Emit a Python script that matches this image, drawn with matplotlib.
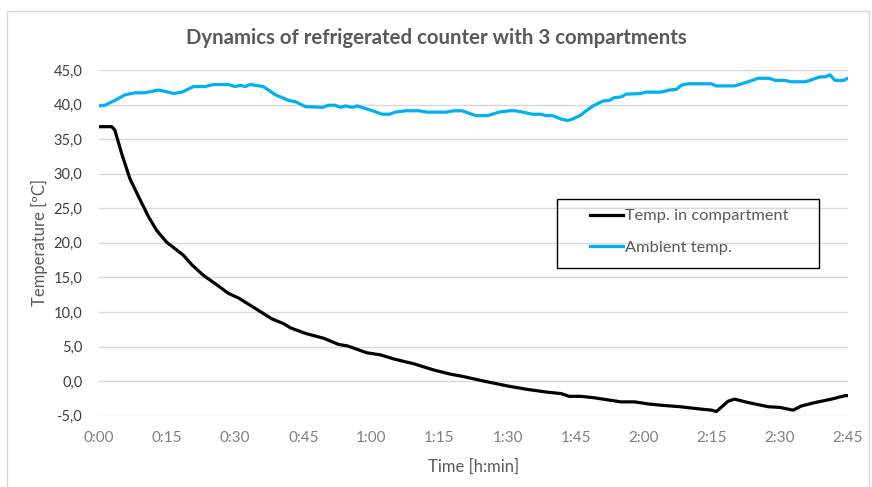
import matplotlib.pyplot as plt
from matplotlib.patches import Rectangle
from matplotlib.ticker import FuncFormatter, MultipleLocator

plt.rcParams['font.family'] = ['Lato', 'DejaVu Sans']

# time in minutes, temperatures in degC
t_comp = [0, 2.8, 3.5, 5, 6.8, 8.7, 10.9, 12.7, 14.9, 18.6, 20.5, 23, 25.6, 28.5,
          30.8, 35.2, 38.1, 40.7, 42.2, 45.5, 49.5, 52.8, 54.7, 59, 62, 65, 69.4,
          73.8, 77.5, 80, 84.8, 90, 94.4, 98.8, 101.8, 103.6, 106.2, 109, 115, 118,
          121, 124, 128, 132, 135, 136, 138.6, 140, 143, 147.4, 150, 152.9, 154.7,
          157.7, 161.4, 164.3, 165]
temp_comp = [36.8, 36.8, 36.3, 32.9, 29.3, 26.7, 23.8, 21.8, 20.1, 18.2, 16.8, 15.3,
             14.1, 12.7, 12.0, 10.2, 9.0, 8.3, 7.7, 6.9, 6.2, 5.3, 5.1, 4.1, 3.8, 3.2,
             2.5, 1.6, 1.0, 0.7, 0.0, -0.7, -1.2, -1.6, -1.8, -2.2, -2.2, -2.4, -3.0,
             -3.0, -3.3, -3.5, -3.7, -4.0, -4.2, -4.4, -2.9, -2.6, -3.1, -3.7, -3.8,
             -4.2, -3.6, -3.1, -2.6, -2.1, -2.1]

t_amb = [0, 1.3, 3.5, 5.7, 8, 10, 11.6, 13.1, 14.6, 16.4, 18.3, 20.8, 23.4, 25.2,
         28.5, 30, 31.1, 32.2, 33.3, 36.2, 38.9, 41.8, 43.3, 45.5, 49.2, 50.6, 52,
         53.2, 54.3, 55.8, 56.9, 59.8, 62.4, 64, 65.3, 67.5, 70.5, 72.3, 76.4, 78.2,
         80, 83, 85.6, 88.1, 90.4, 91.8, 93.3, 95.5, 97.3, 98.5, 99.9, 101.8, 103.2,
         104.3, 106.2, 107.3, 109.1, 111, 112.4, 113.5, 115, 116.1, 119.4, 120.5,
         123.8, 125.7, 127.2, 128.3, 129.7, 134.9, 136, 140, 143, 145.2, 147.7, 148.9,
         151, 152.5, 155.5, 156.6, 158.8, 160, 161, 162.1, 164, 165]
temp_amb = [39.8, 39.9, 40.6, 41.4, 41.7, 41.7, 41.9, 42.1, 41.9, 41.6, 41.8, 42.6,
            42.6, 42.9, 42.9, 42.6, 42.8, 42.6, 42.9, 42.6, 41.4, 40.6, 40.4, 39.7,
            39.6, 39.9, 39.9, 39.6, 39.8, 39.6, 39.8, 39.2, 38.6, 38.6, 38.9, 39.1,
            39.1, 38.9, 38.9, 39.1, 39.1, 38.4, 38.4, 38.9, 39.1, 39.1, 38.9, 38.6,
            38.6, 38.4, 38.4, 37.9, 37.7, 37.9, 38.5, 39.1, 39.9, 40.5, 40.6, 41.0,
            41.1, 41.5, 41.6, 41.8, 41.8, 42.1, 42.2, 42.8, 43.0, 43.0, 42.7, 42.7,
            43.3, 43.8, 43.8, 43.5, 43.5, 43.3, 43.3, 43.5, 44.0, 44.0, 44.3, 43.5,
            43.5, 43.8]

fig = plt.figure(figsize=(8.72, 4.87), dpi=100)
ax = fig.add_axes([0.1135, 0.1464, 0.859, 0.7099])

# chart border like excel
fig.patches.append(Rectangle((7 / 872, -0.01), 862 / 872, 1 - 11 / 487 + 0.01,
                             transform=fig.transFigure, fill=False,
                             edgecolor='#d9d9d9', linewidth=1))

ax.plot(t_comp, temp_comp, color='black', linewidth=2.3, label='Temp. in compartment')
ax.plot(t_amb, temp_amb, color='#00b0f0', linewidth=2.3, label='Ambient temp.')

ax.set_xlim(0, 165)
ax.set_ylim(-5, 45)
ax.xaxis.set_major_locator(MultipleLocator(15))
ax.yaxis.set_major_locator(MultipleLocator(5))
ax.xaxis.set_major_formatter(FuncFormatter(lambda v, p: f"{int(v) // 60}:{int(v) % 60:02d}"))
ax.yaxis.set_major_formatter(FuncFormatter(lambda v, p: f"{v:.1f}".replace('.', ',')))
ax.tick_params(axis='both', length=0)
ax.tick_params(axis='y', colors='#404040', pad=12, labelsize=10.5)
ax.tick_params(axis='x', colors='#7f7f7f', pad=11, labelsize=11)
for s in ax.spines.values():
    s.set_visible(False)
ax.grid(axis='y', color='#d9d9d9', linewidth=1)
ax.set_axisbelow(True)

ax.set_xlabel('Time [h:min]', color='#595959', fontsize=12, labelpad=10)
ax.set_ylabel('Temperature [ºC]', color='#595959', fontsize=12, labelpad=4)
fig.text(0.5, 0.922, 'Dynamics of refrigerated counter with 3 compartments',
         ha='center', va='center', fontsize=14.7, fontweight='bold', color='#595959')

# legend box drawn separately so the entries can sit inset like excel
ax.add_patch(Rectangle((0.6115, 0.4273), 0.3498, 0.1995, transform=ax.transAxes,
                       fill=False, edgecolor='black', linewidth=1, zorder=5,
                       clip_on=False))
leg = ax.legend(loc='center left', bbox_to_anchor=(0.6555, 0.5314), frameon=False,
                fontsize=11.8, handlelength=2.0, labelspacing=1.05, borderpad=0,
                handletextpad=0.15, borderaxespad=0)
for txt in leg.get_texts():
    txt.set_color('#595959')

fig.savefig('out.png', dpi=100)
